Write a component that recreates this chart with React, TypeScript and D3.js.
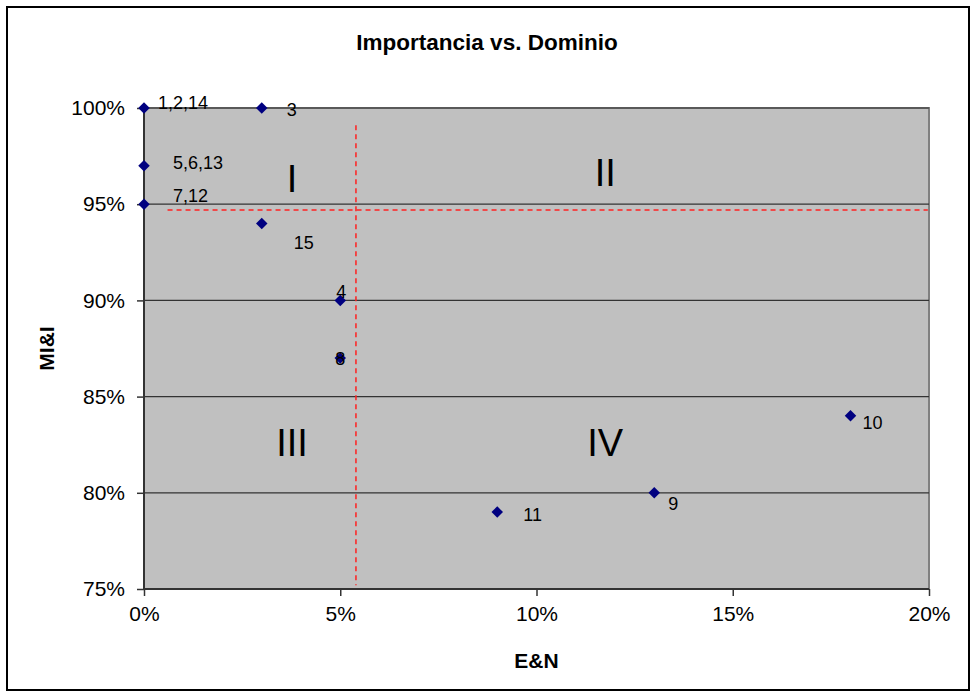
import React, { useEffect, useRef } from "react";
import * as d3 from "d3";

// Points: E&N (%) vs MI&I (%), one label per point
const pointLabels = ["1,2,14", "3", "5,6,13", "7,12", "15", "4", "8", "11", "9", "10"];
const enValues = [0, 3, 0, 0, 3, 5, 5, 9, 13, 18];
const miiValues = [100, 100, 97, 95, 94, 90, 87, 79, 80, 84];

// Label offsets from the marker, in pixels
const labelDx = [14, 25, 29, 29, 32, 1, 0, 26, 14, 12];
const labelDy = [-5, 2, -3, -8, 20, -8, 1, 3, 11, 7];

// Quadrant split lines (E&N and MI&I thresholds) and their extents
const splitEN = 5.4;
const splitMII = 94.7;
const splitENRange = [75.2, 99.1];
const splitMIIRange = [0.6, 19.97];

// Quadrant names and where they sit
const quadrantNames = ["I", "II", "III", "IV"];
const quadrantEN = [3.77, 11.75, 3.77, 11.75];
const quadrantMII = [96.3, 96.6, 82.6, 82.6];

const xTicks = [0, 5, 10, 15, 20];
const yTicks = [75, 80, 85, 90, 95, 100];

const W = 975;
const H = 692;
const plot = { left: 144, right: 929, top: 108, bottom: 589 };
const FONT = "'Liberation Sans', Arial, sans-serif";

export default function App() {
  const xAxisRef = useRef<SVGGElement>(null);
  const yAxisRef = useRef<SVGGElement>(null);

  const x = d3.scaleLinear().domain([0, 20]).range([plot.left, plot.right]);
  const y = d3.scaleLinear().domain([75, 100]).range([plot.bottom, plot.top]);

  useEffect(() => {
    const fmt = (d: d3.NumberValue) => `${d}%`;
    const xa = d3.select(xAxisRef.current!);
    xa.call(d3.axisBottom(x).tickValues(xTicks).tickFormat(fmt).tickSize(7).tickPadding(10));
    xa.select(".domain").remove();
    xa.selectAll(".tick line").attr("stroke", "#333").attr("stroke-width", 1.5);
    xa.selectAll(".tick text")
      .attr("font-family", FONT)
      .attr("font-size", 21)
      .attr("fill", "#000");

    const ya = d3.select(yAxisRef.current!);
    ya.call(d3.axisLeft(y).tickValues(yTicks).tickFormat(fmt).tickSize(7).tickPadding(12));
    ya.select(".domain").remove();
    ya.selectAll(".tick line").attr("stroke", "#333").attr("stroke-width", 1.5);
    ya.selectAll(".tick text")
      .attr("font-family", FONT)
      .attr("font-size", 21)
      .attr("fill", "#000");
  }, []);

  const diamond = d3.symbol().type(d3.symbolDiamond2).size(84)();
  const pw = plot.right - plot.left;
  const ph = plot.bottom - plot.top;

  return (
    <svg
      width={W}
      height={H}
      style={{ position: "absolute", left: 0, top: 0, background: "#fff" }}
    >
      {/* outer chart frame */}
      <rect x={7} y={7} width={962} height={683} fill="#fff" stroke="#000" strokeWidth={2} />

      <text
        x={487}
        y={42}
        textAnchor="middle"
        dominantBaseline="central"
        fontFamily={FONT}
        fontWeight="bold"
        fontSize={22.5}
      >
        Importancia vs. Dominio
      </text>

      {/* plot area */}
      <rect x={plot.left} y={plot.top} width={pw} height={ph} fill="#c0c0c0" stroke="#808080" strokeWidth={2} />

      {/* horizontal gridlines */}
      {yTicks.filter((t) => t !== 75).map((t) => (
        <line key={t} x1={plot.left} x2={plot.right} y1={y(t)} y2={y(t)} stroke="#333" strokeWidth={1.2} />
      ))}

      {/* axis lines */}
      <line x1={plot.left} x2={plot.left} y1={plot.top} y2={plot.bottom} stroke="#333" strokeWidth={2} />
      <line x1={plot.left} x2={plot.right} y1={plot.bottom} y2={plot.bottom} stroke="#333" strokeWidth={2} />

      <g ref={xAxisRef} transform={`translate(0,${plot.bottom})`} />
      <g ref={yAxisRef} transform={`translate(${plot.left},0)`} />

      {/* quadrant split lines */}
      <line
        x1={x(splitEN)}
        x2={x(splitEN)}
        y1={y(splitENRange[1])}
        y2={y(splitENRange[0])}
        stroke="#ff2020"
        strokeWidth={1.5}
        strokeDasharray="5,4"
      />
      <line
        x1={x(splitMIIRange[0])}
        x2={x(splitMIIRange[1])}
        y1={y(splitMII)}
        y2={y(splitMII)}
        stroke="#ff2020"
        strokeWidth={1.5}
        strokeDasharray="5,4"
      />

      {quadrantNames.map((q, i) => (
        <text
          key={q}
          x={x(quadrantEN[i])}
          y={y(quadrantMII[i])}
          textAnchor="middle"
          dominantBaseline="central"
          fontFamily={FONT}
          fontSize={38}
        >
          {q}
        </text>
      ))}

      {enValues.map((e, i) => (
        <path
          key={`m${i}`}
          d={diamond!}
          transform={`translate(${x(e)},${y(miiValues[i])})`}
          fill="#000080"
        />
      ))}

      {enValues.map((e, i) => (
        <text
          key={`l${i}`}
          x={x(e) + labelDx[i]}
          y={y(miiValues[i]) + labelDy[i]}
          textAnchor={i === 5 || i === 6 ? "middle" : "start"}
          dominantBaseline="central"
          fontFamily={FONT}
          fontSize={18}
        >
          {pointLabels[i]}
        </text>
      ))}

      <text
        x={(plot.left + plot.right) / 2}
        y={660}
        textAnchor="middle"
        dominantBaseline="central"
        fontFamily={FONT}
        fontWeight="bold"
        fontSize={21}
      >
        E&amp;N
      </text>
      <text
        transform={`translate(46,${(plot.top + plot.bottom) / 2}) rotate(-90)`}
        textAnchor="middle"
        dominantBaseline="central"
        fontFamily={FONT}
        fontWeight="bold"
        fontSize={21}
      >
        MI&amp;I
      </text>
    </svg>
  );
}
